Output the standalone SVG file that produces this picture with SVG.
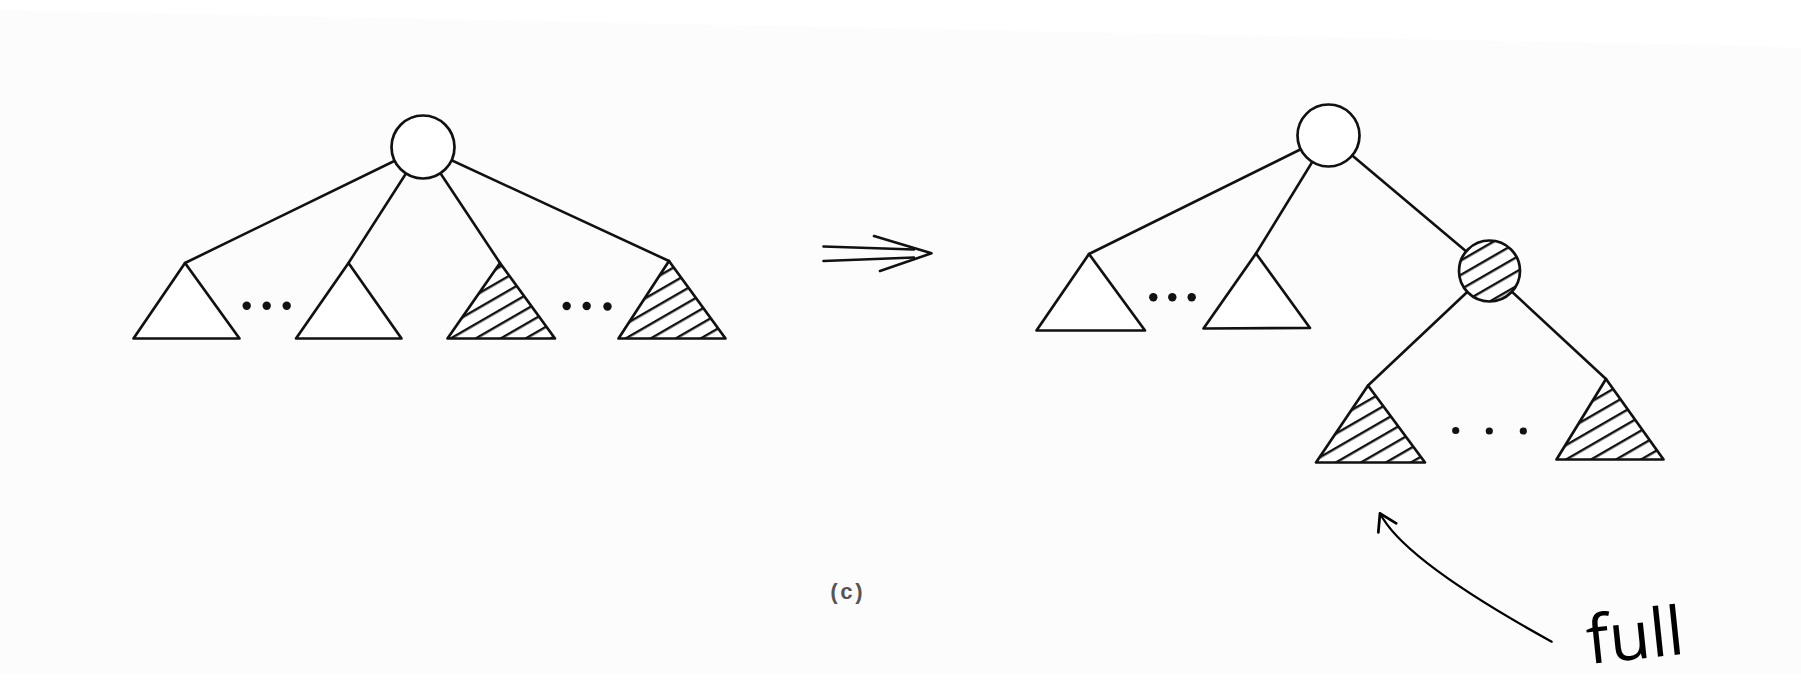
<svg xmlns="http://www.w3.org/2000/svg" width="1801" height="682" viewBox="0 0 1801 682">
<defs>
<style>
.edge{stroke:#111;stroke-width:2.6;fill:none;stroke-linecap:round}
.tri{stroke:#111;stroke-width:2.7;fill:#fff;stroke-linejoin:round}
.hat{fill:url(#hatch);stroke:none}
.circ{stroke:#111;stroke-width:2.7;fill:#fff}
.dot{fill:#111}
.lbl{font-family:"Liberation Mono",monospace;font-size:22px;font-weight:bold;fill:#555;letter-spacing:-1px}
.note{font-family:"Open Sans",sans-serif;font-size:67px;fill:#000}
</style>
<pattern id="hatch" patternUnits="userSpaceOnUse" width="12.5" height="12.5" patternTransform="rotate(-30)">
<line x1="-1" y1="6" x2="14" y2="6" stroke="#111" stroke-width="2.4"/>
</pattern>
<marker id="open" markerUnits="userSpaceOnUse" markerWidth="30" markerHeight="30" viewBox="-16 -12 20 24" refX="0" refY="0" orient="auto">
<path d="M-13,-8 L0,0 L-13,8" fill="none" stroke="#000" stroke-width="2.2" stroke-linecap="round" stroke-linejoin="round"/>
</marker>
</defs>
<rect width="1801" height="682" fill="#fff"/>
<polygon points="0,10 1760,46 1801,48 1801,674 0,674" fill="#fcfcfc"/>
<g id="connectors">
<line class="edge" x1="423" y1="147" x2="185" y2="263"/>
<line class="edge" x1="423" y1="147" x2="348.5" y2="263"/>
<line class="edge" x1="423" y1="147" x2="500" y2="263"/>
<line class="edge" x1="423" y1="147" x2="669" y2="261"/>
<line class="edge" x1="1328.5" y1="135.5" x2="1089" y2="254"/>
<line class="edge" x1="1328.5" y1="135.5" x2="1256" y2="253.5"/>
<line class="edge" x1="1328.5" y1="135.5" x2="1489.5" y2="271"/>
<line class="edge" x1="1489.5" y1="271" x2="1368" y2="385.5"/>
<line class="edge" x1="1489.5" y1="271" x2="1606" y2="379"/>
</g>
<g id="left-root"><circle class="circ" cx="423" cy="147" r="31.5"/></g>
<g id="left-t1"><polygon class="tri" points="185,263 133.5,338.5 239.5,338.5"/></g>
<g id="left-dots1"><circle class="dot" cx="246.7" cy="305.7" r="4.2"/><circle class="dot" cx="266.7" cy="305.7" r="4.2"/><circle class="dot" cx="286.7" cy="305.7" r="4.2"/></g>
<g id="left-t2"><polygon class="tri" points="348.5,263 296,338.5 401.5,338.5"/></g>
<g id="left-t3"><polygon class="tri" points="500,263 447.5,338.5 555,338.5"/><polygon class="hat" points="500,263 447.5,338.5 555,338.5"/></g>
<g id="left-dots2"><circle class="dot" cx="566.7" cy="306" r="4.2"/><circle class="dot" cx="586.7" cy="306" r="4.2"/><circle class="dot" cx="607.5" cy="306.5" r="4.2"/></g>
<g id="left-t4"><polygon class="tri" points="669,261 618.5,338.5 725.5,338.5"/><polygon class="hat" points="669,261 618.5,338.5 725.5,338.5"/></g>
<g id="transform-arrow">
<path class="edge" d="M823.5,246.5 L914,249.5" stroke-width="3"/>
<path class="edge" d="M823.5,261 L914,257.5" stroke-width="3"/>
<path class="edge" d="M874,236 L931.5,253.3 L880,271" stroke-width="3" stroke-linejoin="round"/>
</g>
<g id="right-root"><circle class="circ" cx="1328.5" cy="135.5" r="31"/></g>
<g id="right-ta"><polygon class="tri" points="1089,254 1036.5,330.5 1145,330.5"/></g>
<g id="right-dots1"><circle class="dot" cx="1153.3" cy="297.3" r="4.2"/><circle class="dot" cx="1172.3" cy="297.3" r="4.2"/><circle class="dot" cx="1191.7" cy="297.3" r="4.2"/></g>
<g id="right-tb"><polygon class="tri" points="1256,253.5 1203.5,328.5 1310,328"/></g>
<g id="right-full-node"><circle class="circ" cx="1489.5" cy="271" r="30.5"/><circle class="hat" cx="1489.5" cy="271" r="30.5"/></g>
<g id="right-tc"><polygon class="tri" points="1368,385.5 1316,462.5 1425,462.5"/><polygon class="hat" points="1368,385.5 1316,462.5 1425,462.5"/></g>
<g id="right-dots2"><circle class="dot" cx="1455.7" cy="430.5" r="3.6"/><circle class="dot" cx="1489.3" cy="431" r="3.6"/><circle class="dot" cx="1523.3" cy="431" r="3.6"/></g>
<g id="right-td"><polygon class="tri" points="1606,379 1556.5,459.5 1663.5,459.5"/><polygon class="hat" points="1606,379 1556.5,459.5 1663.5,459.5"/></g>
<g id="caption"><text class="lbl" x="846" y="599" text-anchor="middle">(c)</text></g>
<g id="annotation">
<path d="M1551.7,641.7 Q1403.4,560.1 1380,513.3" fill="none" stroke="#000" stroke-width="2.2" stroke-linecap="round" marker-end="url(#open)"/>
<text class="note" x="1589" y="664" transform="rotate(-6 1589 664)">full</text>
</g>
</svg>
